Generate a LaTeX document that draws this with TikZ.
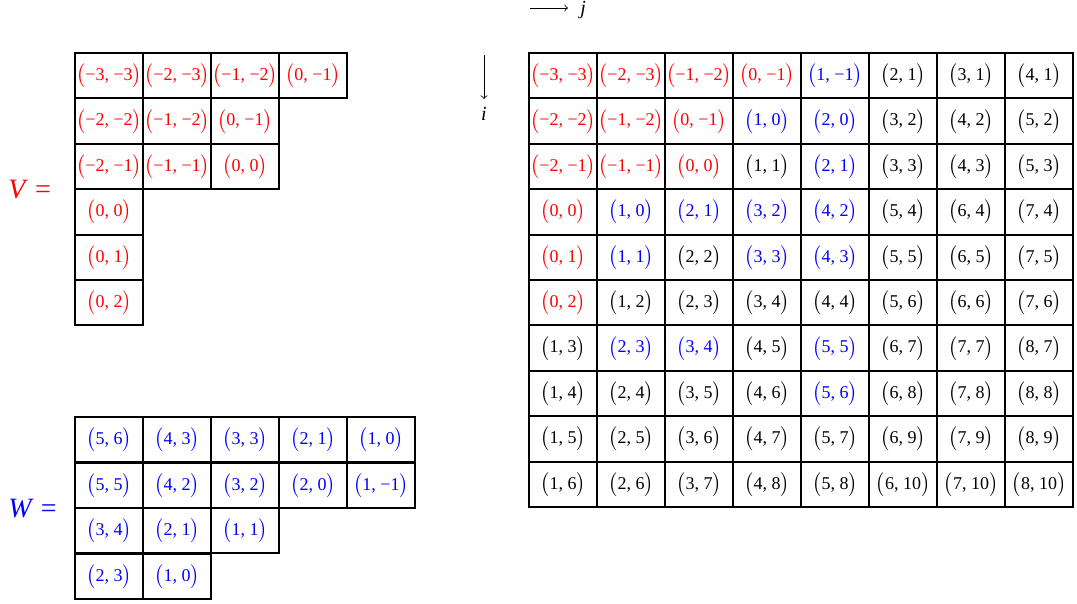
\documentclass[tikz,border=0pt]{standalone}
\usepackage{fontspec}
\setmainfont{Liberation Serif}
\tikzset{
  cellbox/.style={draw, line width=1pt, minimum width=34pt, minimum height=22.7pt, inner sep=0pt, font=\fontsize{9}{11}\selectfont},
  axislabel/.style={font=\fontsize{10}{12}\selectfont\itshape, inner sep=0pt},
  matlabel/.style={font=\fontsize{14}{16}\selectfont, inner sep=0pt, anchor=base west},
  axisarrow/.style={->, line width=0.4pt}
}
% #1 prefix, #2 x of first centre, #3 top y, #4 row height, #5 row index, #6 list colour/a/b
\newcommand\mrow[6]{%
  \foreach \k/\a/\b [count=\c] in {#6}{%
    \node[cellbox,text=\k] (#1-#5-\c) at ({#2+68*(\c-1)},{#3+#4*(#5-0.5)}) {$\bigl(\mbox{\a, \b}\bigr)$};
  }%
}
\begin{document}
\begin{tikzpicture}[x=0.5pt,y=-0.5pt]
\useasboundingbox (0,0) rectangle (1077,604);
% V
\mrow{V}{109}{53}{45.4}{1}{red/−3/−3, red/−2/−3, red/−1/−2, red/0/−1}
\mrow{V}{109}{53}{45.4}{2}{red/−2/−2, red/−1/−2, red/0/−1}
\mrow{V}{109}{53}{45.4}{3}{red/−2/−1, red/−1/−1, red/0/0}
\mrow{V}{109}{53}{45.4}{4}{red/0/0}
\mrow{V}{109}{53}{45.4}{5}{red/0/1}
\mrow{V}{109}{53}{45.4}{6}{red/0/2}
\node[matlabel,text=red] (Vlab) at (8,199) {\textit{V} =};
% W
\mrow{W}{109}{417}{45.5}{1}{blue/5/6, blue/4/3, blue/3/3, blue/2/1, blue/1/0}
\mrow{W}{109}{417}{45.5}{2}{blue/5/5, blue/4/2, blue/3/2, blue/2/0, blue/1/−1}
\mrow{W}{109}{417}{45.5}{3}{blue/3/4, blue/2/1, blue/1/1}
\mrow{W}{109}{417}{45.5}{4}{blue/2/3, blue/1/0}
\node[matlabel,text=blue] (Wlab) at (8,517) {\textit{W} =};
% big matrix
\mrow{B}{563}{53}{45.4}{1}{red/−3/−3, red/−2/−3, red/−1/−2, red/0/−1, blue/1/−1, black/2/1, black/3/1, black/4/1}
\mrow{B}{563}{53}{45.4}{2}{red/−2/−2, red/−1/−2, red/0/−1, blue/1/0, blue/2/0, black/3/2, black/4/2, black/5/2}
\mrow{B}{563}{53}{45.4}{3}{red/−2/−1, red/−1/−1, red/0/0, black/1/1, blue/2/1, black/3/3, black/4/3, black/5/3}
\mrow{B}{563}{53}{45.4}{4}{red/0/0, blue/1/0, blue/2/1, blue/3/2, blue/4/2, black/5/4, black/6/4, black/7/4}
\mrow{B}{563}{53}{45.4}{5}{red/0/1, blue/1/1, black/2/2, blue/3/3, blue/4/3, black/5/5, black/6/5, black/7/5}
\mrow{B}{563}{53}{45.4}{6}{red/0/2, black/1/2, black/2/3, black/3/4, black/4/4, black/5/6, black/6/6, black/7/6}
\mrow{B}{563}{53}{45.4}{7}{black/1/3, blue/2/3, blue/3/4, black/4/5, blue/5/5, black/6/7, black/7/7, black/8/7}
\mrow{B}{563}{53}{45.4}{8}{black/1/4, black/2/4, black/3/5, black/4/6, blue/5/6, black/6/8, black/7/8, black/8/8}
\mrow{B}{563}{53}{45.4}{9}{black/1/5, black/2/5, black/3/6, black/4/7, black/5/7, black/6/9, black/7/9, black/8/9}
\mrow{B}{563}{53}{45.4}{10}{black/1/6, black/2/6, black/3/7, black/4/8, black/5/8, black/6/10, black/7/10, black/8/10}
% axes
\coordinate (jstart) at (530,8);
\coordinate (jend) at (568,8);
\draw[axisarrow] (jstart) -- (jend);
\node[axislabel,anchor=base west] (jlab) at (580,15) {j};
\coordinate (istart) at (484,55);
\coordinate (iend) at (484,99);
\draw[axisarrow] (istart) -- (iend);
\node[axislabel,anchor=base] (ilab) at (484,121) {i};
\end{tikzpicture}
\end{document}
